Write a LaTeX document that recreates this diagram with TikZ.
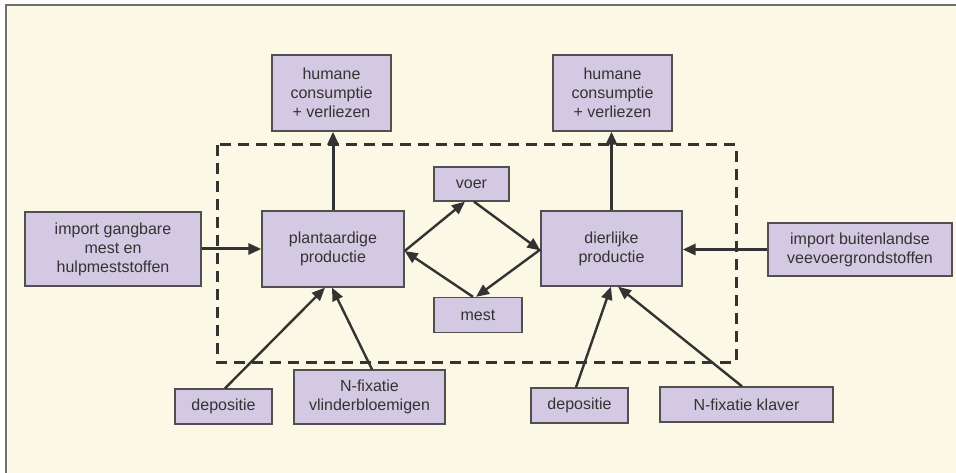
\documentclass[tikz,border=0pt]{standalone}
\usepackage{fontspec}
\setmainfont{Liberation Sans}
\usetikzlibrary{arrows.meta,calc}
\definecolor{cream}{HTML}{FCF8E6}
\definecolor{lav}{HTML}{D3C9E3}
\definecolor{boxline}{HTML}{505050}
\definecolor{ink}{HTML}{333333}
\definecolor{framec}{HTML}{707070}
\tikzset{
  box/.style={draw=boxline, line width=1.3pt, fill=lav, inner sep=0pt, align=center,
    text=ink, font=\fontsize{16}{19}\selectfont},
  flow/.style={draw=ink, line width=3pt, -{Triangle[length=13pt,width=11pt]}},
  dflow/.style={draw=ink, line width=2.4pt, -{Triangle[length=13pt,width=11pt]}},
}
\begin{document}
\begin{tikzpicture}[x=1pt,y=-1pt]
\useasboundingbox (0,0) rectangle (956,473);
\fill[cream] (6,5) rectangle (956,473);
\draw[framec, line width=2pt] (6,473) -- (6,5) -- (956,5);

% dashed system boundary
\draw[ink, line width=3pt, dash pattern=on 11pt off 7pt] (217,145) rectangle (736,362);

\node[box, minimum width=119pt, minimum height=76pt] (hum1) at (331.5,93) {humane\\consumptie\\+ verliezen};
\node[box, minimum width=119pt, minimum height=76pt] (hum2) at (612.5,93) {humane\\consumptie\\+ verliezen};
\node[box, minimum width=75pt, minimum height=34pt] (voer) at (471.5,184) {voer};
\node[box, minimum width=142pt, minimum height=76pt] (plant) at (333,249) {plantaardige\\productie};
\node[box, minimum width=176pt, minimum height=74pt] (gang) at (113,249) {import gangbare\\mest en\\hulpmeststoffen};
\node[box, minimum width=88pt, minimum height=35pt] (mest) at (478,315) {mest};
\node[box, minimum width=141pt, minimum height=75pt] (dier) at (611.5,248.5) {dierlijke\\productie};
\node[box, minimum width=184pt, minimum height=53pt] (buit) at (860,249.5) {import buitenlandse\\veevoergrondstoffen};
\node[box, minimum width=97pt, minimum height=35pt] (dep1) at (223.5,406.5) {depositie};
\node[box, minimum width=151pt, minimum height=54pt] (nfv) at (369.5,397) {N-fixatie\\vlinderbloemigen};
\node[box, minimum width=97pt, minimum height=35pt] (dep2) at (579.5,405.5) {depositie};
\node[box, minimum width=173pt, minimum height=35pt] (nfk) at (746.5,404.5) {N-fixatie klaver};

% arrows
\draw[flow] (plant.north) -- (plant.north |- hum1.south);
\draw[flow] (dier.north) -- (dier.north |- hum2.south);
\draw[flow] (gang.east) -- (gang.east -| plant.west);
\draw[flow] (buit.west) -- (buit.west -| dier.east);

\draw[dflow] ([yshift=-2pt]plant.east) -- ([xshift=-6.5pt]voer.south);
\draw[dflow] ([xshift=2.5pt]voer.south) -- ([yshift=-2pt]dier.west);
\draw[dflow] ([yshift=-1pt]dier.west) -- ([xshift=-2pt]mest.north);
\draw[dflow] ([xshift=-5pt]mest.north) -- ([yshift=-2pt]plant.east);

\draw[dflow] ([xshift=1.5pt]dep1.north) -- ([xshift=-8pt]plant.south);
\draw[dflow] ([xshift=2.5pt]nfv.north) -- ([xshift=-1pt]plant.south);
\draw[dflow] ([xshift=-3.5pt]dep2.north) -- ([xshift=-0.5pt]dier.south);
\draw[dflow] ([xshift=-4.5pt]nfk.north) -- ([xshift=6.5pt]dier.south);
\end{tikzpicture}
\end{document}
